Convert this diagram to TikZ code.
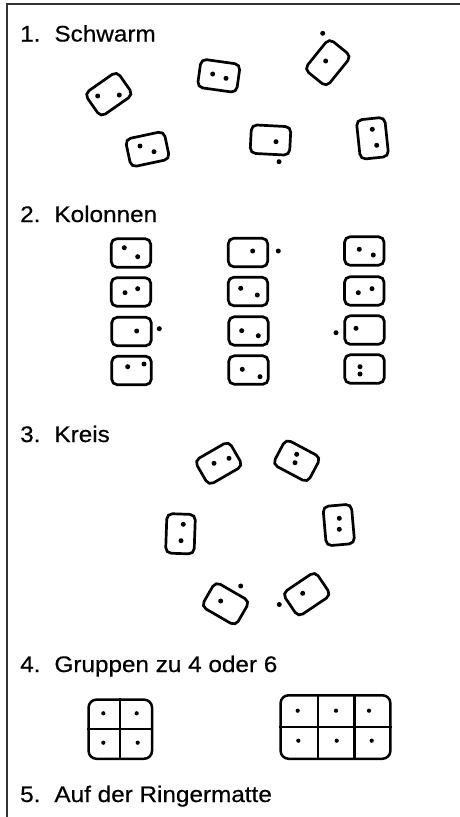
\documentclass[tikz,border=0pt]{standalone}
\usepackage{fontspec}
\newfontfamily\lab[FakeStretch=1.08,FakeBold=0.5]{Liberation Sans}
\usetikzlibrary{calc}
\begin{document}
\begin{tikzpicture}[x=1pt,y=-1pt,
  dom/.style={draw, line width=2.7pt, rounded corners=5.5pt, minimum width=39.5pt, minimum height=28.5pt, inner sep=0pt},
  grp/.style={draw, line width=2.5pt, rounded corners=8pt, inner sep=0pt},
  div/.style={line width=2.3pt},
  pip/.style={circle, fill, inner sep=0pt, minimum size=5pt},
  spip/.style={circle, fill, inner sep=0pt, minimum size=4.2pt},
  title/.style={anchor=base west, inner sep=0pt, font=\lab\fontsize{22.5}{27}\selectfont},
  frame/.style={line width=1.6pt, black!80}]
\useasboundingbox (0,0) rectangle (460,817);
\coordinate (fr1) at (460,4);
\coordinate (fr2) at (7,4);
\coordinate (fr3) at (7,817);
\draw[frame] (fr1) -- (fr2) -- (fr3);

% titles
\node[title] (t1) at (20,41.5) {1.\hspace{5pt} Schwarm};
\node[title] (t2) at (20,222) {2.\hspace{5pt} Kolonnen};
\node[title] (t3) at (20,442) {3.\hspace{5pt} Kreis};
\node[title] (t4) at (20,672) {4.\hspace{5pt} Gruppen zu 4 oder 6};
\node[title] (t5) at (20,802) {5.\hspace{5pt} Auf der Ringermatte};

% 1. Schwarm
\node[dom, rotate=35] (s1) at (108.8,94.2) {};
\node[pip] (s1a) at (97.7,96) {}; \node[pip] (s1b) at (119.3,95) {};
\node[dom, rotate=-8] (s2) at (218.8,75.8) {};
\node[pip] (s2a) at (212.7,74) {}; \node[pip] (s2b) at (226,78.3) {};
\node[dom, rotate=51] (s3) at (327.8,62.7) {};
\node[pip] (s3a) at (325.7,61) {}; \node[pip] (s3b) at (322.7,33.3) {};
\node[dom, rotate=12] (s4) at (147.5,149.2) {};
\node[pip] (s4a) at (140,146) {}; \node[pip] (s4b) at (154,151.7) {};
\node[dom, rotate=-3] (s5) at (270.5,140) {};
\node[pip] (s5a) at (276,141.7) {}; \node[pip] (s5b) at (279,161.7) {};
\node[dom, rotate=96] (s6) at (372.5,138.3) {};
\node[pip] (s6a) at (372.3,129.3) {}; \node[pip] (s6b) at (376.7,145.3) {};

% 2. Kolonnen
\node[dom] (c11) at (131,253) {};
\node[dom] (c12) at (131,292) {};
\node[dom] (c13) at (131.5,331.5) {};
\node[dom] (c14) at (131.5,370.5) {};
\node[pip] (p111) at (124.3,247.7) {}; \node[pip] (p112) at (137.7,256.7) {};
\node[pip] (p121) at (125,292.7) {}; \node[pip] (p122) at (137.7,288.7) {};
\node[pip] (p131) at (136.7,331) {}; \node[pip] (p132) at (159.3,328.7) {};
\node[pip] (p141) at (127.7,366.7) {}; \node[pip] (p142) at (144,364) {};

\node[dom] (c21) at (248,252.5) {};
\node[dom] (c22) at (248,291.5) {};
\node[dom] (c23) at (248.5,331) {};
\node[dom] (c24) at (248.5,370) {};
\node[pip] (p211) at (252.7,251) {}; \node[pip] (p212) at (278.3,251) {};
\node[pip] (p221) at (240.7,288.3) {}; \node[pip] (p222) at (257.3,295) {};
\node[pip] (p231) at (241.7,330.7) {}; \node[pip] (p232) at (258.3,335.7) {};
\node[pip] (p241) at (242.3,369.3) {}; \node[pip] (p242) at (260,376.7) {};

\node[dom] (c31) at (364.3,251) {};
\node[dom] (c32) at (364.3,291) {};
\node[dom] (c33) at (364.5,330) {};
\node[dom] (c34) at (364.5,369) {};
\node[pip] (p311) at (359.3,249.3) {}; \node[pip] (p312) at (373.3,255) {};
\node[pip] (p321) at (358.3,292.7) {}; \node[pip] (p322) at (372,288.7) {};
\node[pip] (p331) at (356,328.3) {}; \node[pip] (p332) at (336,332.7) {};
\node[pip] (p341) at (360,366.7) {}; \node[pip] (p342) at (360,374) {};

% 3. Kreis
\node[dom, rotate=30] (k1) at (218.7,463.3) {};
\node[pip] (k1a) at (214,463.3) {}; \node[pip] (k1b) at (229,458.3) {};
\node[dom, rotate=-28] (k2) at (296.7,460.8) {};
\node[pip] (k2a) at (296.7,454.3) {}; \node[pip] (k2b) at (295,462.7) {};
\node[dom, rotate=88] (k3) at (180.5,533.8) {};
\node[pip] (k3a) at (183.3,524.3) {}; \node[pip] (k3b) at (181,540.7) {};
\node[dom, rotate=95] (k4) at (338.8,525) {};
\node[pip] (k4a) at (339.3,518.3) {}; \node[pip] (k4b) at (339.3,529.3) {};
\node[dom, rotate=-30] (k5) at (225.5,603.8) {};
\node[pip] (k5a) at (220.7,601) {}; \node[pip] (k5b) at (240.7,586) {};
\node[dom, rotate=34] (k6) at (306.7,594.2) {};
\node[pip] (k6a) at (302.7,593.3) {}; \node[pip] (k6b) at (279.3,604.5) {};

% 4. Gruppen
\node[grp, minimum width=63.5pt, minimum height=59.2pt] (g4) at (120.3,729.2) {};
\draw[div] (g4.north) -- (g4.south);
\draw[div] (g4.west) -- (g4.east);
\node[spip] (q1) at (103.3,713.3) {}; \node[spip] (q2) at (136.7,713.3) {};
\node[spip] (q3) at (103.3,742.7) {}; \node[spip] (q4) at (137.7,742.7) {};

\node[grp, minimum width=109.8pt, minimum height=63.5pt] (g6) at (335.5,727) {};
\draw[div] ($(g6.north west)!0.345!(g6.north east)$) -- ($(g6.south west)!0.345!(g6.south east)$);
\draw[div] ($(g6.north west)!0.67!(g6.north east)$) -- ($(g6.south west)!0.67!(g6.south east)$);
\draw[div] (g6.west) -- (g6.east);
\node[spip] (r1) at (297.7,710.7) {}; \node[spip] (r2) at (336,710.7) {}; \node[spip] (r3) at (369,710.7) {};
\node[spip] (r4) at (298.3,740.7) {}; \node[spip] (r5) at (336.7,740.7) {}; \node[spip] (r6) at (371.7,740.7) {};
\end{tikzpicture}
\end{document}
